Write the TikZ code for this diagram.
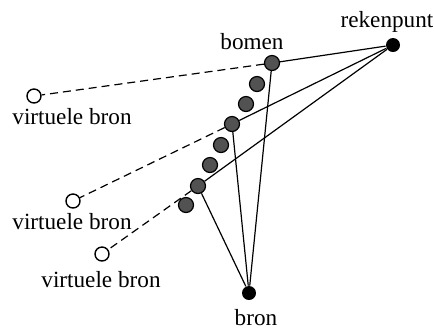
\documentclass[tikz,border=0pt]{standalone}
\usepackage{fontspec}
\setmainfont{Liberation Serif}
\usetikzlibrary{positioning}

\begin{document}
\begin{tikzpicture}[
                x=0.5pt, y=-0.5pt,
                every node/.style={font=\fontsize{11.6}{14}\selectfont},
                boom/.style={circle, draw, line width=0.6pt, fill=black!68, minimum size=7.5pt, inner sep=0pt},
                punt/.style={circle, fill=black, minimum size=7pt, inner sep=0pt},
                virtueel/.style={circle, draw, line width=0.7pt, fill=white, minimum size=7pt, inner sep=0pt},
                straal/.style={draw, line width=0.6pt},
                spiegel/.style={draw, line width=0.6pt, dash pattern=on 4pt off 2.5pt}
            ]
            \useasboundingbox (0,0) rectangle (434,329);

            % Nodes
            \node [punt] (rekenpunt) at (393,45) {};
            \node [punt] (bron) at (249,293) {};
            \foreach \i/\x/\y in {1/272/63, 2/257/84, 3/246/104, 4/232/124,
                                  5/221/145, 6/210/165, 7/198/186, 8/186/205}
                \node [boom] (boom\i) at (\x,\y) {};
            \node [virtueel] (virt1) at (34,96) {};
            \node [virtueel] (virt2) at (73,201) {};
            \node [virtueel] (virt3) at (102,254) {};

            % Labels
            \node (rekenpunt_txt) at (387,22) {rekenpunt};
            \node (bomen_txt) at (252,42) {bomen};
            \node (bron_txt) at (256,318) {bron};
            \node (virt1_txt) at (72,117) {virtuele bron};
            \node (virt2_txt) at (72,222) {virtuele bron};
            \node (virt3_txt) at (101,280) {virtuele bron};

            % Rays
            \foreach \b/\v in {1/1, 4/2, 7/3} {
                \draw[straal] (rekenpunt) -- (boom\b);
                \draw[straal] (boom\b) -- (bron);
                \draw[spiegel] (boom\b) -- (virt\v);
            }

            \end{tikzpicture}
\end{document}
